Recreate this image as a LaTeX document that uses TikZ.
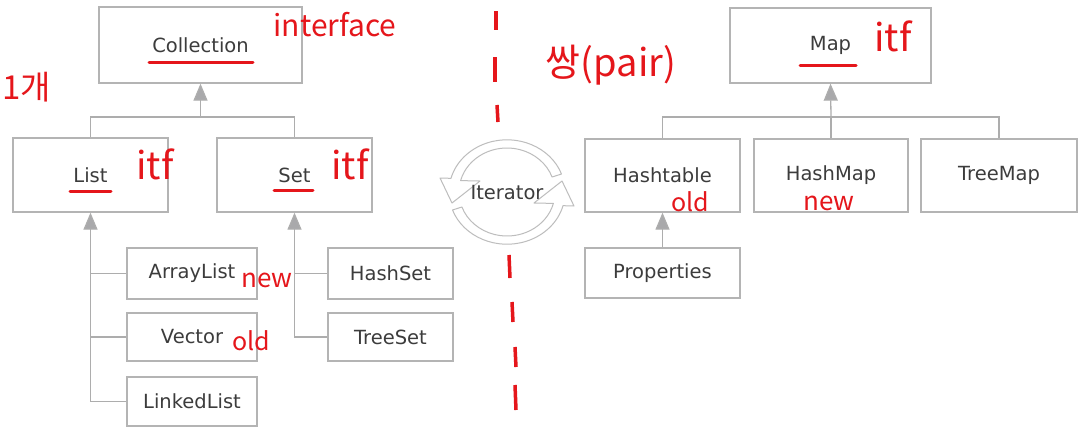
\documentclass[tikz,border=0pt]{standalone}
\usepackage{fontspec}
\setmainfont{DejaVu Sans}
\newfontfamily\kr{Noto Sans CJK KR}
\usetikzlibrary{arrows.meta}
\definecolor{boxgray}{HTML}{B4B4B4}
\definecolor{linegray}{HTML}{ADADAD}
\definecolor{tipgray}{HTML}{A9A9AB}
\definecolor{itergray}{HTML}{BDBDBD}
\definecolor{txt}{HTML}{3C3C3C}
\definecolor{pen}{HTML}{E5161B}
\begin{document}
\begin{tikzpicture}[x=1pt,y=-1pt,
  cls/.style={draw=boxgray, line width=1.3pt, fill=white, text=txt,
    font=\fontsize{19.5}{22}\selectfont, inner sep=0pt},
  conn/.style={draw=linegray, line width=1.3pt},
  inh/.style={conn, -{Triangle[width=14pt,length=17pt,fill=tipgray]}, color=linegray},
  inhr/.style={conn, {Triangle[width=14pt,length=17pt,fill=tipgray]}-, color=linegray},
  note/.style={text=pen, inner sep=0pt},
  penline/.style={draw=pen, line width=3pt, line cap=round},
  iterarrow/.style={draw=itergray, fill=white, line width=1pt, line join=round}
]
\fill[white] (0,0) rectangle (1078,429);
\useasboundingbox (0,0) rectangle (1078,429);

% ---- Collection side ----
\node[cls, minimum width=203pt, minimum height=76pt] (coll) at (200.5,45) {Collection};
\node[cls, minimum width=155pt, minimum height=74pt] (list) at (90.5,175) {List};
\node[cls, minimum width=155pt, minimum height=74pt] (set) at (294.5,175) {Set};
\node[cls, minimum width=130pt, minimum height=51pt] (arr) at (192,273.5) {ArrayList};
\node[cls, minimum width=130pt, minimum height=48pt] (vec) at (192,337) {Vector};
\node[cls, minimum width=130pt, minimum height=49pt] (lnk) at (192,401.5) {LinkedList};
\node[cls, minimum width=125pt, minimum height=51pt] (hset) at (390.5,273.5) {HashSet};
\node[cls, minimum width=125pt, minimum height=48pt] (tset) at (390.5,337) {TreeSet};

\coordinate (j1) at (200.5,117);
\draw[conn] (list.north) |- (j1) -| (set.north);
\draw[inh] (j1) -- (coll.south);

\draw[inhr] (list.south) -- (list.south |- lnk.west) -- (lnk.west);
\draw[conn] (list.south |- arr.west) -- (arr.west);
\draw[conn] (list.south |- vec.west) -- (vec.west);

\draw[inhr] (set.south) -- (set.south |- tset.west) -- (tset.west);
\draw[conn] (set.south |- hset.west) -- (hset.west);

% ---- Map side ----
\node[cls, minimum width=201pt, minimum height=75pt] (map) at (830.5,45.5) {Map};
\node[cls, minimum width=155pt, minimum height=73pt] (htab) at (662.5,175.5) {Hashtable};
\node[cls, minimum width=154pt, minimum height=73pt] (hmap) at (831,175.5) {HashMap};
\node[cls, minimum width=156pt, minimum height=73pt] (tmap) at (999,175.5) {TreeMap};
\node[cls, minimum width=155pt, minimum height=50pt] (prop) at (662.5,273) {Properties};

\coordinate (j2) at (831,117);
\draw[conn] (htab.north) |- (j2) -| (tmap.north);
\draw[conn] (hmap.north) -- (j2);
\draw[inh] (j2) -- (map.south);
\draw[inh] (prop.north) -- (htab.south);

% ---- Iterator ----
\filldraw[iterarrow] (552.1,177) -- (561.5,174)
  arc[start angle=340,end angle=195,x radius=58,y radius=52]
  -- (440,178) -- (452,203) -- (480,181) -- (460.6,180.6)
  arc[start angle=195,end angle=340,x radius=48,y radius=44] -- cycle;
\filldraw[iterarrow, rotate around={180:(507,192)}] (552.1,177) -- (561.5,174)
  arc[start angle=340,end angle=195,x radius=58,y radius=52]
  -- (440,178) -- (452,203) -- (480,181) -- (460.6,180.6)
  arc[start angle=195,end angle=340,x radius=48,y radius=44] -- cycle;
\node[text=txt, font=\fontsize{19.5}{22}\selectfont, inner sep=0pt] (iter) at (507,193) {Iterator};

% ---- red annotations ----
\foreach \a/\b/\c/\d in {496/11/496/30, 495/57/495/82, 497/105/498/122, 509/255/510/278,
                         512/302/513/322, 515/347/516/367, 515/385/516/410}{
  \draw[penline, line width=3.5pt, line cap=butt] (\a,\b) -- (\c,\d);
}
\draw[penline] (149,62) -- (253,62);
\draw[penline] (70,191) -- (111,191);
\draw[penline] (274,190) -- (313,190);
\draw[penline] (800,65) -- (856,65);

\node[note, font=\kr\fontsize{30}{30}\selectfont] (n1) at (335,25) {interface};
\node[note, font=\kr\fontsize{33}{33}\selectfont] (n2) at (27,87) {1개};
\node[note, font=\kr\fontsize{38}{38}\selectfont] (n3) at (155,164) {itf};
\node[note, font=\kr\fontsize{38}{38}\selectfont] (n4) at (350,164) {itf};
\node[note, font=\kr\fontsize{38}{38}\selectfont] (n5) at (893,36) {itf};
\node[note, font=\kr\fontsize{26}{26}\selectfont] (n6) at (267,280) {new};
\node[note, font=\kr\fontsize{25}{25}\selectfont] (n7) at (251,341) {old};
\node[note, font=\kr\fontsize{25}{25}\selectfont] (n8) at (690,202) {old};
\node[note, font=\kr\fontsize{26}{26}\selectfont] (n9) at (829,203) {new};
\node[note, font=\kr\fontsize{38}{38}\selectfont] (n10) at (611,65) {쌍(pair)};
\end{tikzpicture}
\end{document}
